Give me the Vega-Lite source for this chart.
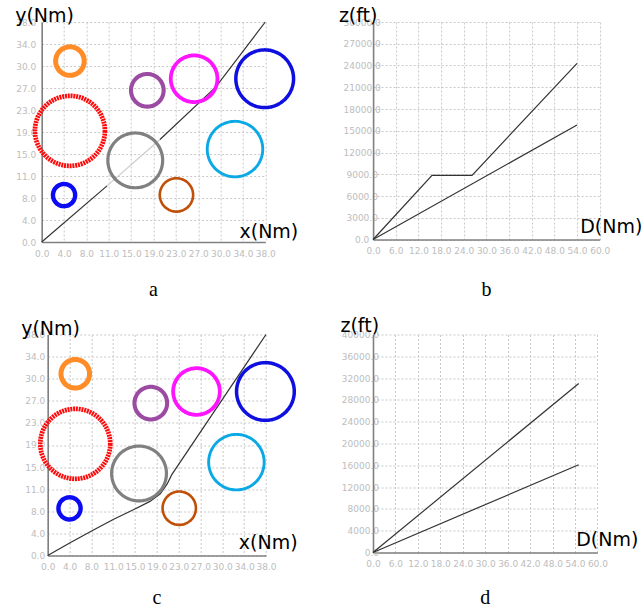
{
  "$schema": "https://vega.github.io/schema/vega-lite/v6.json",
  "background": "white",
  "autosize": {"type": "pad"},
  "padding": {"left": 14.7, "top": 6, "right": 0, "bottom": 0},
  "datasets": {
    "obstacles": [
      {"obstacle": "O1", "x": 4.8, "y": 31.25, "r": 2.45},
      {"obstacle": "O2", "x": 4.8, "y": 19.2, "r": 6.0},
      {"obstacle": "O3", "x": 3.8, "y": 8.1, "r": 1.9},
      {"obstacle": "O4", "x": 17.95, "y": 26.2, "r": 2.8},
      {"obstacle": "O5", "x": 25.9, "y": 28.2, "r": 4.0},
      {"obstacle": "O6", "x": 37.9, "y": 28.2, "r": 4.95},
      {"obstacle": "O7", "x": 15.9, "y": 14.1, "r": 4.7},
      {"obstacle": "O8", "x": 32.85, "y": 16.05, "r": 4.76},
      {"obstacle": "O9", "x": 22.9, "y": 8.13, "r": 2.86}
    ],
    "path_a": [
      {"x": 0, "y": 0, "seg": "s1"},
      {"x": 11.1, "y": 9.7, "seg": "s1"},
      {"x": 11.1, "y": 9.7, "seg": "s2"},
      {"x": 20.1, "y": 17.7, "seg": "s2"},
      {"x": 20.1, "y": 17.7, "seg": "s3"},
      {"x": 29.6, "y": 26.8, "seg": "s3"},
      {"x": 38, "y": 38, "seg": "s3"}
    ],
    "path_c": [
      {"x": 0, "y": 0},
      {"x": 3.9, "y": 2.2},
      {"x": 7.8, "y": 4.3},
      {"x": 11.4, "y": 6.2},
      {"x": 15, "y": 7.9},
      {"x": 17.8, "y": 9.3},
      {"x": 19.6, "y": 10.6},
      {"x": 20.8, "y": 12.3},
      {"x": 21.6, "y": 13.9},
      {"x": 38, "y": 38}
    ],
    "alt_b": [
      {"d": 0, "z": 0, "profile": "p1"},
      {"d": 15.6, "z": 8850, "profile": "p1"},
      {"d": 26.2, "z": 8850, "profile": "p1"},
      {"d": 54, "z": 24300, "profile": "p1"},
      {"d": 0, "z": 0, "profile": "p2"},
      {"d": 54, "z": 15800, "profile": "p2"}
    ],
    "alt_d": [
      {"d": 0, "z": 0, "profile": "p1"},
      {"d": 55, "z": 31000, "profile": "p1"},
      {"d": 0, "z": 0, "profile": "p2"},
      {"d": 55, "z": 16100, "profile": "p2"}
    ]
  },
  "spacing": 312.5,
  "bounds": "flush",
  "vconcat": [
    {
      "spacing": 107.4,
      "bounds": "flush",
      "hconcat": [
        {
          "width": 223.6,
          "height": 220,
          "title": {"text": "a", "orient": "bottom", "offset": 22},
          "encoding": {
            "x": {"field": "x", "type": "quantitative", "scale": {"domain": [0, 38], "nice": false, "zero": false},
              "axis": {"values": [0, 3.8, 7.6, 11.4, 15.2, 19, 22.8, 26.6, 30.4, 34.2, 38], "labelExpr": "format(round(datum.value), '.1f')", "labelOverlap": false, "title": "x(Nm)", "titleX": 197.3, "titleY": -5, "labelPadding": 7}},
            "y": {"field": "y", "type": "quantitative", "scale": {"domain": [0, 38], "nice": false, "zero": false},
              "axis": {"values": [0, 3.8, 7.6, 11.4, 15.2, 19, 22.8, 26.6, 30.4, 34.2, 38], "labelExpr": "format(round(datum.value), '.1f')", "labelOverlap": false, "title": "y(Nm)", "titleX": -27, "titleY": -1, "labelAlign": "right", "labelPadding": 6}}
          },
          "layer": [
            {
              "data": {"name": "path_a"},
              "mark": {"type": "line", "strokeWidth": 1.2},
              "encoding": {
                "stroke": {"field": "seg", "type": "nominal", "scale": {"domain": ["s1", "s2", "s3"], "range": ["#333333", "#cccccc", "#333333"]}, "legend": null}
              }
            },
            {
              "data": {"name": "obstacles"},
              "mark": {"type": "point", "shape": "circle", "filled": false, "opacity": 1},
              "encoding": {
                "size": {"field": "r", "type": "quantitative", "scale": {"type": "pow", "exponent": 2, "domain": [0, 10], "range": [0, 13596]}, "legend": null},
                "color": {"field": "obstacle", "type": "nominal", "scale": {"domain": ["O1","O2","O3","O4","O5","O6","O7","O8","O9"], "range": ["#ff8c26","#ff0a0a","#0a0af5","#9b4ba1","#ff14ff","#0f0fe0","#808080","#0aa8e4","#c05008"]}, "legend": null},
                "strokeWidth": {"field": "obstacle", "type": "nominal", "scale": {"domain": ["O1","O2","O3","O4","O5","O6","O7","O8","O9"], "range": [5, 2.6, 4, 5.5, 3, 3, 6.5, 6, 5]}, "legend": null},
                "strokeDash": {"field": "obstacle", "type": "nominal", "scale": {"domain": ["O1","O2","O3","O4","O5","O6","O7","O8","O9"], "range": [[1,0],[2,0.8],[1,0],[1,0],[1,0],[1,0],[1,0],[1,0],[1,0]]}, "legend": null}
              }
            }
          ]
        },
        {
          "width": 226.6,
          "height": 217.5,
          "title": {"text": "b", "orient": "bottom", "offset": 24.5},
          "data": {"name": "alt_b"},
          "mark": {"type": "line", "strokeWidth": 1.2, "color": "#333333"},
          "encoding": {
            "x": {"field": "d", "type": "quantitative", "scale": {"domain": [0, 60], "nice": false, "zero": false},
              "axis": {"values": [0, 6, 12, 18, 24, 30, 36, 42, 48, 54, 60], "format": ".1f", "labelOverlap": false, "title": "D(Nm)", "titleX": 206.6, "titleY": -6.7, "labelPadding": 7}},
            "y": {"field": "z", "type": "quantitative", "scale": {"domain": [0, 30000], "nice": false, "zero": false},
              "axis": {"values": [0, 3000, 6000, 9000, 12000, 15000, 18000, 21000, 24000, 27000, 30000], "format": ".1f", "labelOverlap": false, "title": "z(ft)", "titleX": -34.7, "titleY": -0.8, "labelAlign": "center", "labelPadding": 11.4}},
            "detail": {"field": "profile", "type": "nominal"}
          }
        }
      ]
    },
    {
      "spacing": 0,
      "bounds": "flush",
      "hconcat": [
        {"width": 6, "height": 1, "data": {"values": []}, "mark": "point"},
        {
          "spacing": 106.3,
          "bounds": "flush",
          "hconcat": [
            {
              "width": 218.3,
              "height": 221,
              "title": {"text": "c", "orient": "bottom", "offset": 17},
              "encoding": {
                "x": {"field": "x", "type": "quantitative", "scale": {"domain": [0, 38], "nice": false, "zero": false},
                  "axis": {"values": [0, 3.8, 7.6, 11.4, 15.2, 19, 22.8, 26.6, 30.4, 34.2, 38], "labelExpr": "format(round(datum.value), '.1f')", "labelOverlap": false, "title": "x(Nm)", "titleX": 190.6, "titleY": -6.7, "labelPadding": 7}},
                "y": {"field": "y", "type": "quantitative", "scale": {"domain": [0, 38], "nice": false, "zero": false},
                  "axis": {"values": [0, 3.8, 7.6, 11.4, 15.2, 19, 22.8, 26.6, 30.4, 34.2, 38], "labelExpr": "format(round(datum.value), '.1f')", "labelOverlap": false, "title": "y(Nm)", "titleX": -27, "titleY": 0, "labelAlign": "right", "labelPadding": 3}}
              },
              "layer": [
                {
                  "data": {"name": "path_c"},
                  "mark": {"type": "line", "strokeWidth": 1.2, "color": "#333333"}
                },
                {
                  "data": {"name": "obstacles"},
                  "mark": {"type": "point", "shape": "circle", "filled": false, "opacity": 1},
                  "encoding": {
                    "size": {"field": "r", "type": "quantitative", "scale": {"type": "pow", "exponent": 2, "domain": [0, 10], "range": [0, 13596]}, "legend": null},
                    "color": {"field": "obstacle", "type": "nominal", "scale": {"domain": ["O1","O2","O3","O4","O5","O6","O7","O8","O9"], "range": ["#ff8c26","#ff0a0a","#0a0af5","#9b4ba1","#ff14ff","#0f0fe0","#808080","#0aa8e4","#c05008"]}, "legend": null},
                    "strokeWidth": {"field": "obstacle", "type": "nominal", "scale": {"domain": ["O1","O2","O3","O4","O5","O6","O7","O8","O9"], "range": [5, 2.6, 4, 5.5, 3, 3, 6.5, 6, 5]}, "legend": null},
                    "strokeDash": {"field": "obstacle", "type": "nominal", "scale": {"domain": ["O1","O2","O3","O4","O5","O6","O7","O8","O9"], "range": [[1,0],[2,0.8],[1,0],[1,0],[1,0],[1,0],[1,0],[1,0],[1,0]]}, "legend": null}
                  }
                }
              ]
            },
            {
              "width": 224.4,
              "height": 218,
              "title": {"text": "d", "orient": "bottom", "offset": 20},
              "data": {"name": "alt_d"},
              "mark": {"type": "line", "strokeWidth": 1.2, "color": "#333333"},
              "encoding": {
                "x": {"field": "d", "type": "quantitative", "scale": {"domain": [0, 60], "nice": false, "zero": false},
                  "axis": {"values": [0, 6, 12, 18, 24, 30, 36, 42, 48, 54, 60], "format": ".1f", "labelOverlap": false, "title": "D(Nm)", "titleX": 202.7, "titleY": -7, "labelPadding": 7}},
                "y": {"field": "z", "type": "quantitative", "scale": {"domain": [0, 40000], "nice": false, "zero": false},
                  "axis": {"values": [0, 4000, 8000, 12000, 16000, 20000, 24000, 28000, 32000, 36000, 40000], "format": ".1f", "labelOverlap": false, "title": "z(ft)", "titleX": -33, "titleY": -3.3, "labelAlign": "right", "labelPadding": -5.5}},
                "detail": {"field": "profile", "type": "nominal"}
              }
            }
          ]
        }
      ]
    }
  ],
  "config": {
    "view": {"stroke": null},
    "axis": {
      "grid": true, "gridDash": [2, 2], "gridColor": "#c8c8c8", "gridWidth": 1, "gridOpacity": 1,
      "domainColor": "#808080", "domainWidth": 1.6, "ticks": false,
      "labelColor": "#bdbdbd", "labelFont": "DejaVu Sans", "labelFontSize": 9,
      "labelOverlap": false, "labelFlush": false, "labelBound": false,
      "titleFont": "DejaVu Sans", "titleFontSize": 19, "titleFontWeight": "normal", "titleColor": "#000000",
      "titleAngle": 0, "titleAlign": "left", "titleBaseline": "alphabetic", "titlePadding": 0
    },
    "title": {"font": "Liberation Serif", "fontSize": 20, "fontWeight": "normal", "color": "#000000", "anchor": "middle"}
  }
}
